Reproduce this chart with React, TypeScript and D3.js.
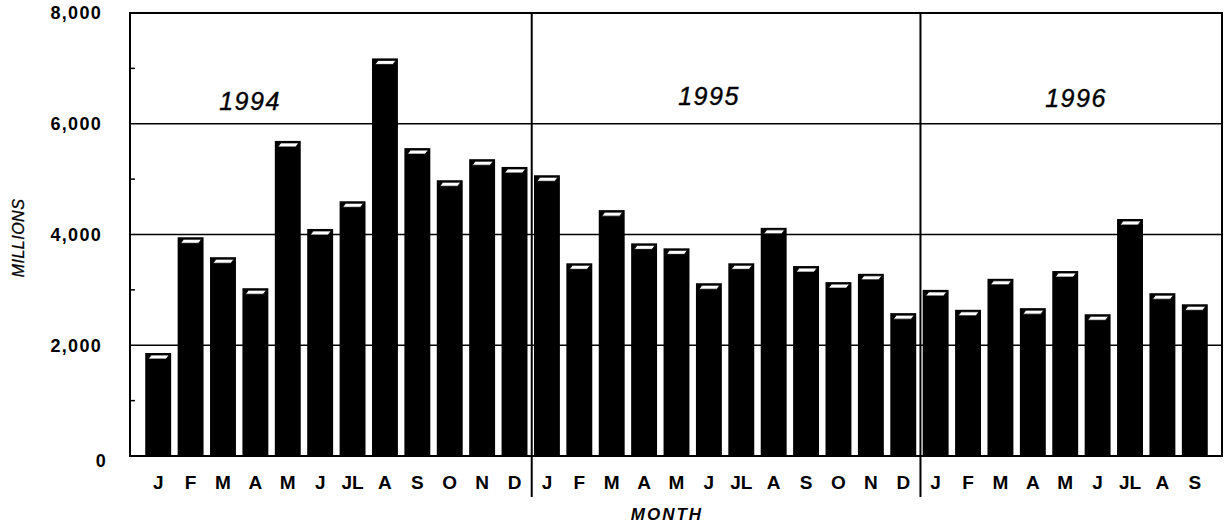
import React, { useEffect, useRef } from "react";
import * as d3 from "d3";

const years = ["1994", "1995", "1996"];
const months1994 = ["J", "F", "M", "A", "M", "J", "JL", "A", "S", "O", "N", "D"];
const months1995 = ["J", "F", "M", "A", "M", "J", "JL", "A", "S", "O", "N", "D"];
const months1996 = ["J", "F", "M", "A", "M", "J", "JL", "A", "S"];
const values1994 = [1860, 3950, 3590, 3030, 5690, 4100, 4600, 7180, 5560, 4980, 5360, 5220];
const values1995 = [5070, 3480, 4440, 3840, 3750, 3120, 3480, 4120, 3430, 3140, 3290, 2580];
const values1996 = [3000, 2640, 3200, 2670, 3340, 2560, 4280, 2940, 2740];
const majorTicks = [0, 2000, 4000, 6000, 8000];
const minorTicks = [1000, 3000, 5000, 7000];

const W = 1227;
const H = 524;
const FONT = "'Liberation Sans', Arial, sans-serif";

function App() {
  const SVG = useRef(null);

  useEffect(() => {
    const svg = d3.select(SVG.current);
    svg.selectAll("*").remove();

    const rows = [];
    [months1994, months1995, months1996].forEach((ms, yi) => {
      const vals = [values1994, values1995, values1996][yi];
      ms.forEach((m, i) => rows.push({ key: yi + "-" + i, month: m, value: vals[i], year: yi }));
    });

    const left = 130, right = 1222, top = 13, bottom = 456;
    const x = d3.scaleBand()
      .domain(rows.map(d => d.key))
      .range([142, 1211])
      .paddingInner(0.2)
      .paddingOuter(0.1);
    const y = d3.scaleLinear().domain([0, 8000]).range([bottom, top]);
    const bw = x.bandwidth();

    // gridlines
    svg.append("g")
      .selectAll("line")
      .data(majorTicks.filter(t => t > 0 && t < 8000))
      .enter()
      .append("line")
      .attr("x1", left).attr("x2", right)
      .attr("y1", d => y(d)).attr("y2", d => y(d))
      .attr("stroke", "#000").attr("stroke-width", 1.5);

    // minor ticks on left axis
    svg.append("g")
      .selectAll("line")
      .data(minorTicks)
      .enter()
      .append("line")
      .attr("x1", left).attr("x2", left + 5)
      .attr("y1", d => y(d)).attr("y2", d => y(d))
      .attr("stroke", "#000").attr("stroke-width", 1.5);

    // bars
    const bars = svg.append("g").selectAll("g").data(rows).enter().append("g");
    bars.append("rect")
      .attr("x", d => x(d.key))
      .attr("y", d => y(d.value))
      .attr("width", bw)
      .attr("height", d => bottom - y(d.value))
      .attr("fill", "#000");
    bars.append("path")
      .attr("d", d => {
        const x0 = x(d.key), t = y(d.value);
        return `M${x0 + 3},${t + 6} L${x0 + 6},${t + 2} L${x0 + bw - 2},${t + 2} L${x0 + bw - 5},${t + 6} Z`;
      })
      .attr("fill", "#fff")
      .attr("stroke", "#000")
      .attr("stroke-width", 0.8);

    // frame
    svg.append("rect")
      .attr("x", left).attr("y", top)
      .attr("width", right - left).attr("height", bottom - top)
      .attr("fill", "none").attr("stroke", "#000").attr("stroke-width", 2);

    // year dividers
    const splits = [months1994.length, months1994.length + months1995.length];
    svg.append("g")
      .selectAll("line")
      .data(splits)
      .enter()
      .append("line")
      .attr("x1", i => (x(rows[i - 1].key) + bw + x(rows[i].key)) / 2 + 1)
      .attr("x2", i => (x(rows[i - 1].key) + bw + x(rows[i].key)) / 2 + 1)
      .attr("y1", top).attr("y2", 497)
      .attr("stroke", "#000").attr("stroke-width", 2);

    // y tick labels
    svg.append("g")
      .selectAll("text")
      .data(majorTicks)
      .enter()
      .append("text")
      .attr("x", d => (d === 0 ? 107 : 102))
      .attr("y", d => y(d) + (d === 0 ? 5 : 0))
      .attr("dy", "0.35em")
      .attr("text-anchor", "end")
      .attr("font-family", FONT)
      .attr("font-weight", "bold")
      .attr("font-size", 18)
      .attr("letter-spacing", 1.3)
      .text(d => d3.format(",")(d));

    // month labels
    svg.append("g")
      .selectAll("text")
      .data(rows)
      .enter()
      .append("text")
      .attr("x", d => x(d.key) + bw / 2)
      .attr("y", 489)
      .attr("text-anchor", "middle")
      .attr("font-family", FONT)
      .attr("font-weight", "bold")
      .attr("font-size", 19)
      .text(d => d.month);

    // year labels
    const yearPos = [{ x: 250, y: 110 }, { x: 709, y: 105 }, { x: 1076, y: 107 }];
    svg.append("g")
      .selectAll("text")
      .data(years)
      .enter()
      .append("text")
      .attr("x", (d, i) => yearPos[i].x)
      .attr("y", (d, i) => yearPos[i].y)
      .attr("text-anchor", "middle")
      .attr("font-family", FONT)
      .attr("font-style", "italic")
      .attr("font-size", 25)
      .attr("letter-spacing", 1.5)
      .attr("stroke", "#000")
      .attr("stroke-width", 0.4)
      .text(d => d);

    // axis titles
    svg.append("text")
      .attr("x", 667)
      .attr("y", 520)
      .attr("text-anchor", "middle")
      .attr("font-family", FONT)
      .attr("font-style", "italic")
      .attr("font-weight", "bold")
      .attr("font-size", 17)
      .attr("letter-spacing", 2)
      .text("MONTH");

    svg.append("text")
      .attr("transform", "translate(24,238) rotate(-90)")
      .attr("text-anchor", "middle")
      .attr("font-family", FONT)
      .attr("font-style", "italic")
      .attr("font-size", 16)
      .attr("letter-spacing", 0.5)
      .attr("stroke", "#000")
      .attr("stroke-width", 0.3)
      .text("MILLIONS");
  }, []);

  return (
    <svg
      ref={SVG}
      width={W}
      height={H}
      style={{ position: "absolute", left: 0, top: 0, background: "#fff" }}
    />
  );
}

export default App;
